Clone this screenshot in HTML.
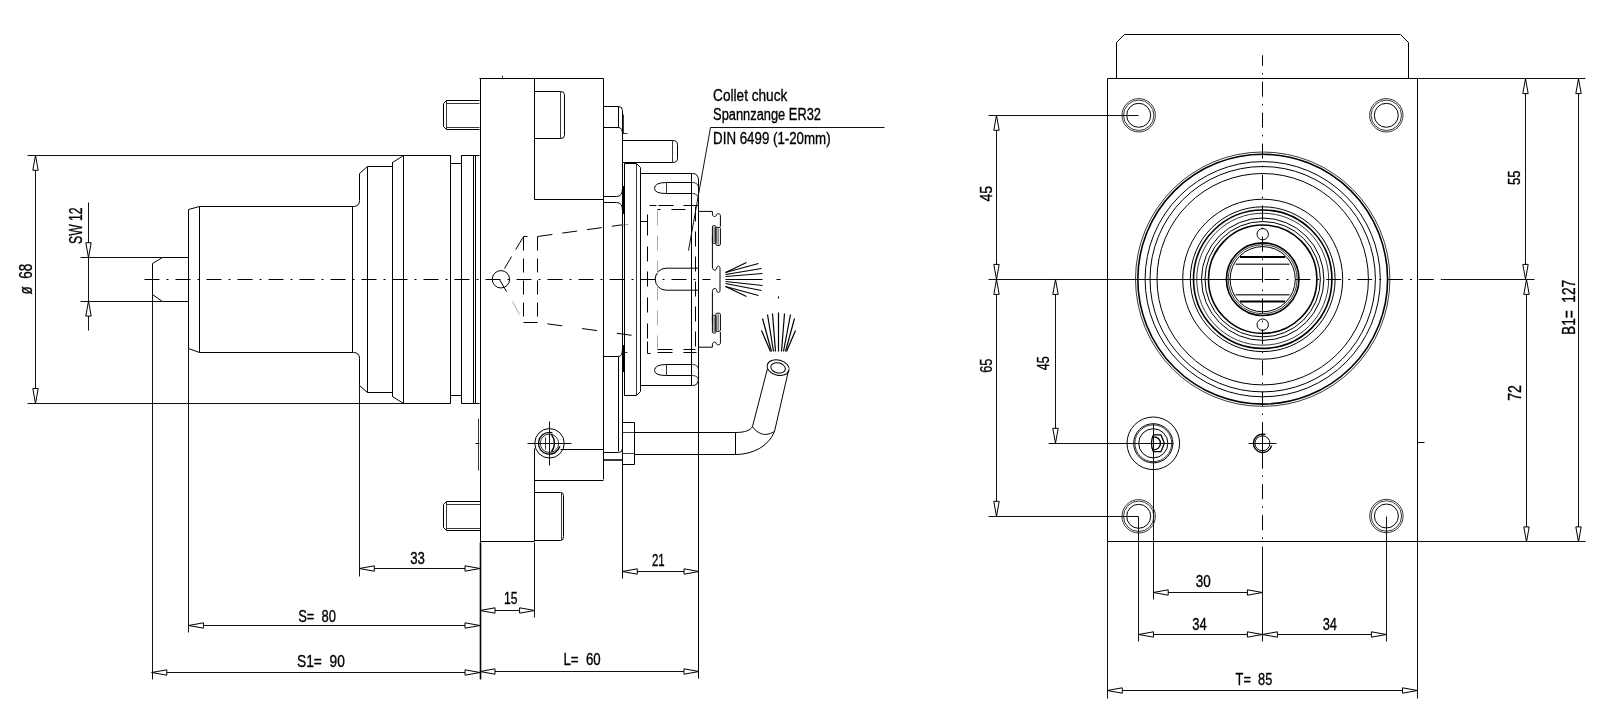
<!DOCTYPE html>
<html><head><meta charset="utf-8"><style>
html,body{margin:0;padding:0;background:#fff;width:1600px;height:718px;overflow:hidden}
svg{display:block;will-change:transform}
.o{stroke:#000;stroke-width:1;fill:none}
.k{stroke:#000;stroke-width:1.6;fill:none}
.t{stroke:#222;stroke-width:0.9;fill:none}
.d{stroke:#111;stroke-width:1;fill:none}
.h{stroke:#000;stroke-width:1;fill:none}
.g{stroke:#aaa;stroke-width:1;fill:none}
.cl{stroke:#000;stroke-width:1;fill:none}
.sp{stroke:#000;stroke-width:1.2;fill:none}
.ar{stroke:#000;stroke-width:1;fill:#fff}
text{font-family:"Liberation Sans",sans-serif;fill:#000;stroke:#000;stroke-width:0.35}
</style></head><body>
<svg width="1600" height="718" viewBox="0 0 1600 718">
<line class="cl" x1="144.5" y1="279.5" x2="710.5" y2="279.5" stroke-dasharray="15 7 2 7"/>
<line class="d" x1="27.5" y1="155.5" x2="403.5" y2="155.5"/>
<line class="d" x1="27.5" y1="403.5" x2="403.5" y2="403.5"/>
<line class="d" x1="35.5" y1="155.5" x2="35.5" y2="403.5"/>
<polygon class="ar" points="35.5,155.3 32.8,170.3 38.2,170.3"/>
<polygon class="ar" points="35.5,403.5 32.8,388.5 38.2,388.5"/>
<text transform="translate(31.7 294.5) rotate(-90)" x="0" y="0" font-size="17.43" textLength="30.7" lengthAdjust="spacingAndGlyphs">&#248;&#160;&#160;68</text>
<line class="d" x1="80.5" y1="257.5" x2="162.5" y2="257.5"/>
<line class="d" x1="80.5" y1="301.5" x2="162.5" y2="301.5"/>
<line class="d" x1="88.5" y1="202.5" x2="88.5" y2="330.5"/>
<polygon class="ar" points="88.5,257.7 85.8,242.7 91.2,242.7"/>
<polygon class="ar" points="88.5,301.1 85.8,316.1 91.2,316.1"/>
<text transform="translate(82.4 244) rotate(-90)" x="0" y="0" font-size="18.57" textLength="36.6" lengthAdjust="spacingAndGlyphs">SW&#160;12</text>
<path class="o" d="M162.5,257.5 L152.5,263.5 V294.5 L162.5,301.5 M162.5,257.5 H188.5 M162.5,301.5 H188.5"/>
<line class="d" x1="152.5" y1="294.5" x2="152.5" y2="679.5"/>
<path class="o" d="M188.5,209.5 L199.5,206.5 H353.5 Q359.5,206.5 359.5,200.5 V173.5 L367.5,166.5 H392.5 V162.5 L403.5,155.5 H450.5 V163.5 H461.5 V155.5 H479.5"/>
<path class="o" d="M188.5,348.5 L199.5,352.5 H353.5 Q359.5,352.5 359.5,358.5 V385.5 L367.5,392.5 H392.5 V396.5 L403.5,403.5 H450.5 V395.5 H461.5 V403.5 H479.5"/>
<line class="o" x1="188.5" y1="209.5" x2="188.5" y2="348.5"/>
<line class="o" x1="199.5" y1="206.5" x2="199.5" y2="352.5"/>
<line class="o" x1="352.5" y1="206.5" x2="352.5" y2="352.5"/>
<line class="o" x1="367.5" y1="166.5" x2="367.5" y2="392.5"/>
<line class="o" x1="392.5" y1="162.5" x2="392.5" y2="396.5"/>
<line class="o" x1="392.5" y1="162.5" x2="392.5" y2="166.5"/>
<line class="o" x1="403.5" y1="155.5" x2="403.5" y2="403.5"/>
<line class="o" x1="450.5" y1="155.5" x2="450.5" y2="403.5"/>
<line class="o" x1="461.5" y1="155.5" x2="461.5" y2="403.5"/>
<line class="o" x1="473.5" y1="155.5" x2="473.5" y2="403.5"/>
<line class="o" x1="475.5" y1="155.5" x2="475.5" y2="403.5"/>
<line class="d" x1="188.5" y1="348.5" x2="188.5" y2="632.5"/>
<line class="d" x1="359.5" y1="385.5" x2="359.5" y2="576.5"/>
<line class="o" x1="480.5" y1="78.5" x2="480.5" y2="542.5"/>
<line class="k" x1="480.5" y1="542.5" x2="480.5" y2="679.5"/>
<path class="o" d="M479.5,78.5 H603.5 V479.5"/>
<path class="o" d="M480.5,541.5 H534.5 V448.5"/>
<line class="d" x1="534.5" y1="542.5" x2="534.5" y2="617.5"/>
<path class="o" d="M534.5,480.5 H603.5"/>
<path class="o" d="M560.5,449.5 H603.5"/>
<path class="o" d="M534.5,78.5 V199.5 H603.5"/>
<line class="t" x1="502.5" y1="75.5" x2="502.5" y2="78.5"/>
<line class="o" x1="475.5" y1="443.5" x2="479.5" y2="443.5"/>
<line class="t" x1="478.5" y1="418.5" x2="478.5" y2="470.5"/>
<path class="o" d="M534.5,91.5 H560.5 Q564.5,91.5 564.5,94.5 V135.5 Q564.5,138.5 560.5,138.5 H534.5"/>
<line class="t" x1="560.5" y1="91.5" x2="560.5" y2="138.5"/>
<path class="o" d="M534.5,492.5 H560.5 Q563.5,492.5 563.5,495.5 V536.5 Q563.5,540.5 560.5,540.5 H534.5"/>
<line class="t" x1="561.5" y1="492.5" x2="561.5" y2="540.5"/>
<circle class="o" cx="549.5" cy="443.3" r="14.75"/>
<path class="o" style="stroke-width:1.3" d="M552.4,432.8 L550.2,432.4 A10.9,10.9 0 1 0 559.9,446.3"/>
<circle class="t" cx="549.5" cy="443.3" r="9.2"/>
<line class="t" x1="545.5" y1="437.5" x2="545.5" y2="449.5"/>
<path class="o" style="stroke-width:1.4" d="M551.5,434.3 Q557.5,443.3 551.5,452"/>
<line class="d" x1="527.5" y1="443.5" x2="571.5" y2="443.5"/>
<line class="d" x1="549.5" y1="421.5" x2="549.5" y2="465.5"/>
<path class="o" d="M479.5,100.5 H446.5 L443.5,103.5 V126.5 L446.5,129.5 H479.5"/>
<path class="t" d="M479.5,103.5 H446.5 M479.5,127.5 H446.5 M446.5,100.5 V129.5"/>
<path class="o" d="M480.5,501.5 H446.5 L443.5,504.5 V527.5 L446.5,530.5 H480.5"/>
<path class="t" d="M480.5,504.5 H446.5 M480.5,528.5 H446.5 M446.5,501.5 V530.5"/>
<circle class="o" cx="500.9" cy="279.3" r="8.7"/>
<line class="o" x1="499.5" y1="279.5" x2="506.5" y2="291.5"/>
<line class="h" x1="504.5" y1="268.5" x2="523.5" y2="236.5" stroke-dasharray="14 8"/>
<line class="g" x1="512.5" y1="301.5" x2="519.5" y2="314.5"/>
<line class="h" x1="523.5" y1="236.5" x2="523.5" y2="322.5" stroke-dasharray="14 8"/>
<line class="h" x1="537.5" y1="236.5" x2="537.5" y2="322.5" stroke-dasharray="14 8"/>
<line class="h" x1="523.5" y1="236.5" x2="527.5" y2="236.5"/>
<line class="h" x1="523.5" y1="322.5" x2="537.5" y2="322.5"/>
<line class="h" x1="537.5" y1="236.5" x2="624.5" y2="224.5" stroke-dasharray="15 10"/>
<line class="h" x1="537.5" y1="322.5" x2="640.5" y2="336.5" stroke-dasharray="0 10 15 10"/>
<path class="o" d="M603.5,106.5 H618.5 Q622.5,106.5 622.5,110.5 M603.5,127.5 H618.5 Q622.5,127.5 622.5,134.5"/>
<line class="o" x1="618.5" y1="106.5" x2="618.5" y2="127.5"/>
<line class="o" x1="618.5" y1="356.5" x2="618.5" y2="451.5"/>
<line class="o" x1="622.5" y1="110.5" x2="622.5" y2="578.5"/>
<path class="o" d="M603.5,196.5 H616.5 Q622.5,196.5 622.5,188.5"/>
<path class="o" d="M603.5,202.5 H616.5 Q622.5,202.5 622.5,210.5"/>
<path class="o" d="M603.5,356.5 H618.5 Q622.5,356.5 622.5,348.5"/>
<path class="o" d="M603.5,452.5 H618.5 Q622.5,452.5 622.5,448.5"/>
<line class="t" x1="603.5" y1="459.5" x2="622.5" y2="459.5"/>
<line class="t" x1="603.5" y1="460.5" x2="622.5" y2="460.5"/>
<line class="o" x1="603.5" y1="449.5" x2="603.5" y2="449.5"/>
<line class="t" x1="623.5" y1="114.5" x2="623.5" y2="133.5"/>
<path style="stroke:#000;stroke-width:1.6;fill:none" d="M623.5,186 V214 M623.5,345 V372"/>
<line class="t" x1="622.5" y1="133.5" x2="627.5" y2="133.5"/>
<line class="t" x1="622.5" y1="352.5" x2="627.5" y2="352.5"/>
<line class="g" x1="622.5" y1="224.5" x2="628.5" y2="224.5"/>
<path class="o" d="M622.5,140.5 H672.5 Q677.5,140.5 677.5,144.5 V158.5 Q677.5,162.5 672.5,162.5 H622.5"/>
<line class="t" x1="672.5" y1="140.5" x2="672.5" y2="162.5"/>
<path class="o" d="M624.5,163.5 H636.5 L640.5,167.5 V391.5 L636.5,395.5 H624.5 Z"/>
<line class="t" x1="636.5" y1="163.5" x2="636.5" y2="395.5"/>
<path class="o" d="M640.5,173.5 H692.5 Q698.5,173.5 698.5,180.5 V378.5 Q698.5,385.5 692.5,385.5 H640.5"/>
<line class="o" x1="691.5" y1="173.5" x2="691.5" y2="385.5"/>
<line class="o" x1="698.5" y1="180.5" x2="698.5" y2="678.5"/>
<path class="o" d="M692.5,182.5 H666.5 Q654.5,182.5 654.5,188.5 Q654.5,193.5 666.5,193.5 H692.5"/>
<line class="t" x1="666.5" y1="182.5" x2="666.5" y2="193.5"/>
<path class="t" d="M692.5,182.5 Q698.5,182.5 698.5,188.5 M692.5,193.5 Q698.5,193.5 698.5,199.5"/>
<path class="o" d="M692.5,364.5 H666.5 Q654.5,364.5 654.5,370.5 Q654.5,375.5 666.5,375.5 H692.5"/>
<line class="t" x1="666.5" y1="364.5" x2="666.5" y2="375.5"/>
<path class="t" d="M692.5,364.5 Q698.5,364.5 698.5,370.5 M692.5,375.5 Q698.5,375.5 698.5,381.5"/>
<path class="o" d="M698.4,268.2 H666.2 A11,11 0 0 0 666.2,290.2 H698.4"/>
<line class="h" x1="649.5" y1="205.5" x2="656.5" y2="205.5"/>
<line class="h" x1="658.5" y1="205.5" x2="673.5" y2="205.5"/>
<line class="h" x1="683.5" y1="205.5" x2="698.5" y2="205.5"/>
<line class="h" x1="657.5" y1="209.5" x2="660.5" y2="209.5"/>
<line class="h" x1="671.5" y1="209.5" x2="685.5" y2="209.5"/>
<line class="h" x1="657.5" y1="349.5" x2="672.5" y2="349.5"/>
<line class="h" x1="683.5" y1="349.5" x2="695.5" y2="349.5"/>
<line class="h" x1="657.5" y1="352.5" x2="672.5" y2="352.5"/>
<line class="h" x1="683.5" y1="352.5" x2="696.5" y2="352.5"/>
<line class="h" x1="647.5" y1="214.5" x2="647.5" y2="235.5"/>
<line class="h" x1="647.5" y1="246.5" x2="647.5" y2="261.5"/>
<line class="h" x1="647.5" y1="271.5" x2="647.5" y2="286.5"/>
<line class="h" x1="647.5" y1="297.5" x2="647.5" y2="312.5"/>
<line class="h" x1="647.5" y1="323.5" x2="647.5" y2="338.5"/>
<line class="h" x1="647.5" y1="341.5" x2="647.5" y2="353.5"/>
<line class="h" x1="647.5" y1="353.5" x2="650.5" y2="353.5"/>
<line class="o" x1="640.5" y1="221.5" x2="647.5" y2="221.5"/>
<line class="g" x1="657.5" y1="210.5" x2="657.5" y2="348.5" stroke-dasharray="15 10"/>
<line class="h" x1="695.5" y1="206.5" x2="695.5" y2="352.5" stroke-dasharray="15 10"/>
<path class="o" d="M698.8,211.4 H712.4 V213.8 C712.4,217.2 715.9,217.2 716.2,215.2 C716.5,213.2 720.4,213.2 720.4,215.5 V226.6 M712.4,237 V267 C712.4,271 716.5,271 716.8,268 C717,265.3 720,265.3 720,268.5 V279.3"/>
<rect class="o" x="712.4" y="225.6" width="3.5" height="17.7" rx="1.2"/>
<rect class="o" x="715.9" y="227.3" width="4.5" height="18.1" rx="1.2"/>
<path class="t" d="M714.1,226.6 V242.3 M718.1,228.3 V244.4"/>
<path class="o" d="M698.8,347.2 H712.4 V344.8 C712.4,341.4 715.9,341.4 716.2,343.4 C716.5,345.4 720.4,345.4 720.4,343.1 V332 M712.4,321.6 V291.6 C712.4,287.6 716.5,287.6 716.8,290.6 C717,293.3 720,293.3 720,290.1 V279.3"/>
<rect class="o" x="712.4" y="315.3" width="3.5" height="17.7" rx="1.2"/>
<rect class="o" x="715.9" y="313.2" width="4.5" height="18.1" rx="1.2"/>
<path class="t" d="M714.1,316.3 V332 M718.1,314.2 V330.3"/>
<line class="sp" x1="725.5" y1="272.5" x2="746.5" y2="262.5"/>
<line class="sp" x1="725.5" y1="272.5" x2="758.5" y2="263.5"/>
<line class="sp" x1="725.5" y1="274.5" x2="761.5" y2="268.5"/>
<line class="sp" x1="725.5" y1="276.5" x2="762.5" y2="273.5"/>
<line class="sp" x1="725.5" y1="279.5" x2="762.5" y2="279.5"/>
<line class="sp" x1="725.5" y1="286.5" x2="746.5" y2="296.5"/>
<line class="sp" x1="725.5" y1="286.5" x2="758.5" y2="295.5"/>
<line class="sp" x1="725.5" y1="283.5" x2="761.5" y2="290.5"/>
<line class="sp" x1="725.5" y1="281.5" x2="762.5" y2="285.5"/>
<line class="sp" x1="762.5" y1="318.5" x2="771.5" y2="351.5"/>
<line class="sp" x1="767.5" y1="314.5" x2="773.5" y2="351.5"/>
<line class="sp" x1="772.5" y1="313.5" x2="775.5" y2="351.5"/>
<line class="sp" x1="778.5" y1="312.5" x2="778.5" y2="351.5"/>
<line class="sp" x1="784.5" y1="313.5" x2="781.5" y2="351.5"/>
<line class="sp" x1="790.5" y1="314.5" x2="783.5" y2="351.5"/>
<line class="sp" x1="794.5" y1="318.5" x2="785.5" y2="351.5"/>
<line class="sp" x1="761.5" y1="330.5" x2="770.5" y2="351.5"/>
<line class="sp" x1="795.5" y1="330.5" x2="786.5" y2="351.5"/>
<line class="cl" x1="776.5" y1="279.5" x2="780.5" y2="279.5"/>
<line class="cl" x1="778.5" y1="296.5" x2="778.5" y2="298.5"/>
<path class="o" d="M634.5,422.5 H622.5 V464.5 H634.5 Z"/>
<line class="t" x1="622.5" y1="432.5" x2="634.5" y2="432.5"/>
<line class="t" x1="622.5" y1="453.5" x2="634.5" y2="453.5"/>
<path class="o" d="M634.5,432.5 H735.5 M634.5,454.5 H735.5 M735.5,432.5 V454.5"/>
<path class="o" d="M735.5,432.5 C744.5,432.5 750.5,430.5 752.5,426.5 L767.5,368.5"/>
<path class="o" d="M735.5,454.5 C752.5,454.5 768.5,446.5 774.5,431.5 L788.5,370.5"/>
<path class="o" d="M752.5,426.5 C754.5,430.5 760.5,434.5 765.5,434.5 C768.5,434.5 772.5,432.5 774.5,431.5"/>
<ellipse class="o" cx="0" cy="0" rx="11.2" ry="7.6" transform="translate(778.1 367.6) rotate(14)"/>
<ellipse class="o" cx="0" cy="0" rx="7.4" ry="5" transform="translate(778.1 367.9) rotate(14)"/>
<path class="d" d="M884.5,127.5 H710.5 L688.5,250.5"/>
<text x="713.1" y="100.6" font-size="17.29" textLength="74.2" lengthAdjust="spacingAndGlyphs">Collet&#160;chuck</text>
<text x="713.1" y="119.75" font-size="17.29" textLength="107.9" lengthAdjust="spacingAndGlyphs">Spannzange&#160;ER32</text>
<text x="713.1" y="143.5" font-size="17.29" textLength="117.5" lengthAdjust="spacingAndGlyphs">DIN&#160;6499&#160;(1-20mm)</text>
<line class="d" x1="359.5" y1="568.5" x2="480.5" y2="568.5"/>
<polygon class="ar" points="359.3,568.5 374.3,565.8 374.3,571.2"/>
<polygon class="ar" points="480,568.5 465,565.8 465,571.2"/>
<text x="410.2" y="563.9" font-size="16.57" textLength="14.7" lengthAdjust="spacingAndGlyphs">33</text>
<line class="d" x1="188.5" y1="625.5" x2="480.5" y2="625.5"/>
<polygon class="ar" points="188.5,625.5 203.5,622.8 203.5,628.2"/>
<polygon class="ar" points="480,625.5 465,622.8 465,628.2"/>
<text x="298.2" y="621.7" font-size="16.57" textLength="37.8" lengthAdjust="spacingAndGlyphs">S=&#160;&#160;80</text>
<line class="d" x1="151.5" y1="672.5" x2="480.5" y2="672.5"/>
<polygon class="ar" points="151.8,672.5 166.8,669.8 166.8,675.2"/>
<polygon class="ar" points="480,672.5 465,669.8 465,675.2"/>
<text x="297" y="666.9" font-size="16.57" textLength="47.8" lengthAdjust="spacingAndGlyphs">S1=&#160;&#160;90</text>
<line class="d" x1="480.5" y1="610.5" x2="534.5" y2="610.5"/>
<polygon class="ar" points="480,610.5 495,607.8 495,613.2"/>
<polygon class="ar" points="534.6,610.5 519.6,607.8 519.6,613.2"/>
<text x="503.9" y="604.1" font-size="16.57" textLength="13.5" lengthAdjust="spacingAndGlyphs">15</text>
<line class="d" x1="622.5" y1="571.5" x2="698.5" y2="571.5"/>
<polygon class="ar" points="622.3,571.5 637.3,568.8 637.3,574.2"/>
<polygon class="ar" points="699,571.5 684,568.8 684,574.2"/>
<text x="651.9" y="565.5" font-size="16.57" textLength="12.7" lengthAdjust="spacingAndGlyphs">21</text>
<line class="d" x1="480.5" y1="671.5" x2="698.5" y2="671.5"/>
<polygon class="ar" points="480,671.5 495,668.8 495,674.2"/>
<polygon class="ar" points="699,671.5 684,668.8 684,674.2"/>
<text x="563.5" y="665.4" font-size="16.57" textLength="37.2" lengthAdjust="spacingAndGlyphs">L=&#160;&#160;60</text>
<path class="o" d="M1116.5,78.5 V42.5 L1124.5,34.5 H1400.5 L1408.5,42.5 V78.5"/>
<path class="o" d="M1107.5,78.5 H1417.5 V541.5 H1107.5 Z"/>
<line class="d" x1="1417.5" y1="78.5" x2="1585.5" y2="78.5"/>
<line class="d" x1="1417.5" y1="541.5" x2="1585.5" y2="541.5"/>
<line class="o" x1="1417.5" y1="442.5" x2="1424.5" y2="442.5"/>
<circle class="t" cx="1138.7" cy="115.3" r="16.7"/>
<circle class="t" cx="1138.7" cy="115.3" r="15.2"/>
<circle class="o" cx="1138.7" cy="115.3" r="12"/>
<circle class="t" cx="1386.3" cy="115.3" r="16.7"/>
<circle class="t" cx="1386.3" cy="115.3" r="15.2"/>
<circle class="o" cx="1386.3" cy="115.3" r="12"/>
<circle class="t" cx="1138.7" cy="516.3" r="16.7"/>
<circle class="t" cx="1138.7" cy="516.3" r="15.2"/>
<circle class="o" cx="1138.7" cy="516.3" r="12"/>
<circle class="t" cx="1386.4" cy="516" r="16.7"/>
<circle class="t" cx="1386.4" cy="516" r="15.2"/>
<circle class="o" cx="1386.4" cy="516" r="12"/>
<line class="cl" x1="1262.5" y1="55.3" x2="1262.5" y2="542" stroke-dasharray="15 7.2 1.5 7.26" stroke-dashoffset="4.56"/>
<line class="d" x1="1262.5" y1="546.5" x2="1262.5" y2="641.5"/>
<line class="d" x1="988.5" y1="279.5" x2="1262.5" y2="279.5"/>
<line class="cl" x1="1264.5" y1="279.5" x2="1442.5" y2="279.5" stroke-dasharray="15 7 2 6.87"/>
<line class="d" x1="1442.5" y1="279.5" x2="1534.5" y2="279.5"/>
<circle class="t" cx="1262.7" cy="279.2" r="127.2"/>
<circle class="k" cx="1262.7" cy="279.2" r="124.9"/>
<circle class="o" cx="1262.7" cy="279.2" r="117.6"/>
<circle class="o" cx="1262.7" cy="279.2" r="112.7"/>
<circle class="o" cx="1262.7" cy="279.2" r="105.7"/>
<circle class="o" cx="1262.7" cy="279.2" r="80"/>
<circle class="o" cx="1262.7" cy="279.2" r="72.4"/>
<circle class="k" cx="1262.7" cy="279.2" r="69.2"/>
<circle class="t" cx="1262.7" cy="279.2" r="66"/>
<circle class="o" cx="1262.7" cy="279.2" r="61.2"/>
<circle class="o" cx="1262.7" cy="279.2" r="57.7"/>
<circle class="k" cx="1262.7" cy="279.2" r="54.2"/>
<circle class="k" cx="1262.7" cy="279.2" r="36.3"/>
<circle class="t" cx="1262.7" cy="279.2" r="34.5"/>
<circle class="o" cx="1262.7" cy="279.2" r="32.6"/>
<path style="stroke:#000;stroke-width:2;fill:none" d="M1240,257 H1285.2 M1240,301.5 H1285.2"/>
<path style="stroke:#444;stroke-width:1.5;fill:none" d="M1235.7,264.2 H1289.5 M1235.7,294.8 H1289.5"/>
<circle class="o" cx="1262.7" cy="234.2" r="5.7"/>
<circle class="o" cx="1262.7" cy="324.7" r="5.7"/>
<circle class="o" cx="1153.3" cy="443.3" r="26.3"/>
<circle class="o" cx="1153.3" cy="443.3" r="19.6"/>
<circle class="t" cx="1153.3" cy="443.3" r="18.4"/>
<circle class="o" cx="1153.3" cy="443.3" r="14.6"/>
<path class="o" style="stroke-width:1.3" d="M1153.3,434.9 H1161 L1164.4,443.3 L1161,451.6 H1153.3 Q1149.6,443.3 1153.3,434.9 M1154,436.8 A6.5,6.5 0 0 1 1154,449.8"/>
<circle class="o" cx="1262.4" cy="443.3" r="7.5"/>
<path class="o" style="stroke-width:1.3" d="M1265.5,434.4 L1263,434.1 A9.2,9.2 0 1 0 1271.6,445.6"/>
<line class="d" x1="1248.5" y1="443.5" x2="1276.5" y2="443.5"/>
<line class="o" x1="1262.5" y1="422.5" x2="1262.5" y2="468.5"/>
<line class="d" x1="988.5" y1="115.5" x2="1138.5" y2="115.5"/>
<line class="d" x1="988.5" y1="516.5" x2="1138.5" y2="516.5"/>
<line class="d" x1="1048.5" y1="443.5" x2="1173.5" y2="443.5"/>
<line class="d" x1="1107.5" y1="541.5" x2="1107.5" y2="698.5"/>
<line class="d" x1="1417.5" y1="541.5" x2="1417.5" y2="698.5"/>
<line class="d" x1="1138.5" y1="516.5" x2="1138.5" y2="641.5"/>
<line class="d" x1="1153.5" y1="423.5" x2="1153.5" y2="599.5"/>
<line class="d" x1="1386.5" y1="516.5" x2="1386.5" y2="641.5"/>
<line class="d" x1="996.5" y1="115.5" x2="996.5" y2="516.5"/>
<polygon class="ar" points="996.5,115.3 993.8,130.3 999.2,130.3"/>
<polygon class="ar" points="996.5,279.4 993.8,264.4 999.2,264.4"/>
<polygon class="ar" points="996.5,279.4 993.8,294.4 999.2,294.4"/>
<polygon class="ar" points="996.5,516.3 993.8,501.3 999.2,501.3"/>
<line class="d" x1="1055.5" y1="279.5" x2="1055.5" y2="443.5"/>
<polygon class="ar" points="1055.5,279.4 1052.8,294.4 1058.2,294.4"/>
<polygon class="ar" points="1055.5,443.3 1052.8,428.3 1058.2,428.3"/>
<line class="d" x1="1525.5" y1="78.5" x2="1525.5" y2="279.5"/>
<line class="d" x1="1526.5" y1="279.5" x2="1526.5" y2="541.5"/>
<polygon class="ar" points="1525.5,78.6 1522.8,93.6 1528.2,93.6"/>
<polygon class="ar" points="1525.5,279.4 1522.8,264.4 1528.2,264.4"/>
<polygon class="ar" points="1526.5,279.4 1523.8,294.4 1529.2,294.4"/>
<polygon class="ar" points="1526.5,541.9 1523.8,526.9 1529.2,526.9"/>
<line class="d" x1="1578.5" y1="78.5" x2="1578.5" y2="541.5"/>
<polygon class="ar" points="1578.5,78.6 1575.8,93.6 1581.2,93.6"/>
<polygon class="ar" points="1578.5,541.9 1575.8,526.9 1581.2,526.9"/>
<text transform="translate(992 201.6) rotate(-90)" x="0" y="0" font-size="17.14" textLength="15.8" lengthAdjust="spacingAndGlyphs">45</text>
<text transform="translate(991.9 372.8) rotate(-90)" x="0" y="0" font-size="17.14" textLength="14.2" lengthAdjust="spacingAndGlyphs">65</text>
<text transform="translate(1049 370.2) rotate(-90)" x="0" y="0" font-size="17.14" textLength="13.9" lengthAdjust="spacingAndGlyphs">45</text>
<text transform="translate(1519.5 185) rotate(-90)" x="0" y="0" font-size="17.14" textLength="14.5" lengthAdjust="spacingAndGlyphs">55</text>
<text transform="translate(1521.1 400.8) rotate(-90)" x="0" y="0" font-size="17.57" textLength="15.8" lengthAdjust="spacingAndGlyphs">72</text>
<text transform="translate(1575 335) rotate(-90)" x="0" y="0" font-size="18" textLength="55.2" lengthAdjust="spacingAndGlyphs">B1=&#160;&#160;127</text>
<line class="d" x1="1153.5" y1="592.5" x2="1262.5" y2="592.5"/>
<polygon class="ar" points="1153.2,592.5 1168.2,589.8 1168.2,595.2"/>
<polygon class="ar" points="1262.4,592.5 1247.4,589.8 1247.4,595.2"/>
<text x="1195.8" y="586.6" font-size="16.57" textLength="15" lengthAdjust="spacingAndGlyphs">30</text>
<line class="d" x1="1138.5" y1="634.5" x2="1262.5" y2="634.5"/>
<polygon class="ar" points="1138.5,634.5 1153.5,631.8 1153.5,637.2"/>
<polygon class="ar" points="1262.4,634.5 1247.4,631.8 1247.4,637.2"/>
<text x="1192.3" y="629.5" font-size="16.57" textLength="14.4" lengthAdjust="spacingAndGlyphs">34</text>
<line class="d" x1="1262.5" y1="634.5" x2="1386.5" y2="634.5"/>
<polygon class="ar" points="1262.4,634.5 1277.4,631.8 1277.4,637.2"/>
<polygon class="ar" points="1386.4,634.5 1371.4,631.8 1371.4,637.2"/>
<text x="1322.7" y="629.5" font-size="16.57" textLength="14.3" lengthAdjust="spacingAndGlyphs">34</text>
<line class="d" x1="1107.5" y1="690.5" x2="1417.5" y2="690.5"/>
<polygon class="ar" points="1107.3,690.5 1122.3,687.8 1122.3,693.2"/>
<polygon class="ar" points="1417.5,690.5 1402.5,687.8 1402.5,693.2"/>
<text x="1235.6" y="684.9" font-size="16.57" textLength="36.7" lengthAdjust="spacingAndGlyphs">T=&#160;&#160;85</text>
</svg>
</body></html>
